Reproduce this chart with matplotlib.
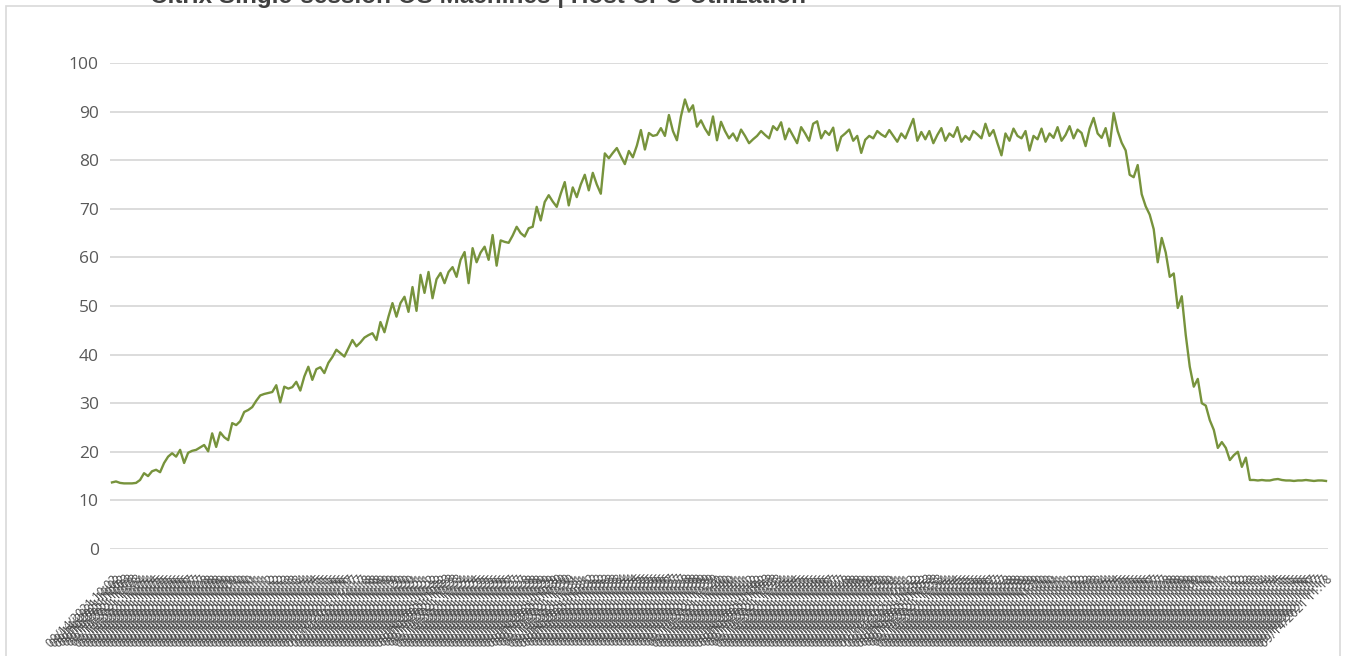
import matplotlib
matplotlib.use("Agg")
import matplotlib.pyplot as plt
from matplotlib.patches import Rectangle
from datetime import datetime, timedelta

plt.rcParams['font.family'] = ['Open Sans', 'DejaVu Sans']

title_text = "Citrix Single-session OS Machines | Host CPU Utilization"

ramp_start = [13.7, 13.9, 13.6, 13.5, 13.5, 13.5, 13.6, 14.2, 15.6, 15.0,
              16.0, 16.3, 15.8, 17.7, 19.0, 19.7, 19.0, 20.4, 17.7, 19.8,
              20.2, 20.4, 20.9, 21.4, 20.1, 23.8, 21.0, 24.0, 23.0, 22.4,
              25.9, 25.5, 26.3, 28.2, 28.6, 29.2, 30.5, 31.6, 31.9, 32.1,
              32.3, 33.7, 30.2, 33.4, 33.0, 33.3, 34.4, 32.6, 35.5, 37.5,
              34.8, 37.0, 37.4, 36.2, 38.3, 39.5, 41.0, 40.3, 39.6, 41.3,
              43.0, 41.7, 42.5, 43.5, 44.0, 44.4, 43.0, 46.7, 44.6, 47.8,
              50.6, 47.8, 50.6, 51.9, 48.8, 53.9, 49.0, 56.4, 52.7, 57.0,
              51.6, 55.5, 56.8, 54.7, 57.0, 58.0, 56.0, 59.5]
ramp_upper = [61.1, 54.7, 61.9, 59.0, 61.0, 62.2, 59.5, 64.6, 58.3, 63.5,
              63.2, 63.0, 64.5, 66.3, 65.0, 64.3, 66.0, 66.3, 70.4, 67.6,
              71.4, 72.8, 71.5, 70.4, 73.1, 75.5, 70.7, 74.4, 72.4, 75.0,
              77.0, 73.8, 77.4, 75.0, 73.1, 81.4, 80.4, 81.5, 82.5, 80.8,
              79.2, 81.9, 80.6, 83.0, 86.2, 82.2, 85.6, 85.0, 85.2, 86.6,
              85.0, 89.3, 86.0, 84.1, 89.0, 92.5, 90.0, 91.3, 86.9, 88.2,
              86.5, 85.2, 89.0, 84.1, 87.9, 86.0, 84.5]
plateau = [85.5, 84.0, 86.3, 85.0, 83.5, 84.3, 85.0, 86.0, 85.2, 84.5,
           87.0, 86.2, 87.8, 84.3, 86.5, 85.0, 83.5, 86.8, 85.5, 84.0,
           87.5, 88.0, 84.5, 86.0, 85.2, 86.7, 82.0, 84.8, 85.5, 86.3,
           84.0, 85.0, 81.5, 84.2, 85.0, 84.5, 86.0, 85.3, 84.8, 86.2,
           85.0, 83.8, 85.5, 84.5, 86.5, 88.5, 84.0, 85.8, 84.3, 86.0,
           83.5, 85.2, 86.6, 84.0, 85.5, 84.8, 86.8, 83.8, 85.0, 84.2,
           86.0, 85.3, 84.5, 87.5, 85.0, 86.2, 83.5, 81.0, 85.5, 84.0,
           86.5, 85.0, 84.5, 86.0, 82.0, 85.0, 84.3, 86.5, 83.8, 85.5,
           84.6, 86.8, 84.0, 85.2, 87.0, 84.5, 86.3, 85.6, 82.9, 86.5,
           88.7, 85.5, 84.6, 86.6, 82.9, 89.7]
ramp_down = [86.0, 83.6, 82.0, 77.0, 76.5, 79.0, 73.0, 70.5, 68.8, 65.8,
             59.0, 64.0, 61.0, 56.0, 56.7, 49.6, 52.0, 44.0, 37.5, 33.4,
             35.0, 30.0, 29.5, 26.5, 24.5, 20.8, 22.0, 20.8, 18.3, 19.3,
             20.0, 16.9, 18.8, 14.2, 14.2]
idle_end = [14.1, 14.2, 14.1, 14.1, 14.3, 14.4, 14.2, 14.1, 14.1, 14.0,
            14.1, 14.1, 14.2, 14.1, 14.0, 14.1, 14.1, 14.0]

cpu_values = ramp_start + ramp_upper + plateau + ramp_down + idle_end

start_time = datetime(2021, 9, 14, 10, 2, 15)
x_labels = [(start_time + timedelta(seconds=15 * i)).strftime("%m/%d/%Y %H:%M")
            for i in range(len(cpu_values))]

y_ticks = [0, 10, 20, 30, 40, 50, 60, 70, 80, 90, 100]

W, H = 1348, 656
fig = plt.figure(figsize=(W / 100, H / 100), dpi=100)

# outer chart frame
fig.patches.append(Rectangle((6 / W, -0.02), (1340 - 6) / W, 1 - 6 / H + 0.02,
                             transform=fig.transFigure, fill=False,
                             edgecolor="#d9d9d9", linewidth=1.2))

ax = fig.add_axes([110 / W, 1 - 549 / H, (1328 - 110) / W, (549 - 63) / H])
x = list(range(len(cpu_values)))
ax.plot(x, cpu_values, color="#77933c", linewidth=1.7, zorder=3)

ax.set_ylim(0, 100)
ax.set_xlim(-0.5, len(cpu_values) - 0.5)
ax.set_yticks(y_ticks)
ax.set_yticklabels([str(v) for v in y_ticks], fontsize=12.5, color="#595959")
ax.yaxis.grid(True, color="#d9d9d9", linewidth=1.3)
ax.set_axisbelow(True)
for s in ax.spines.values():
    s.set_visible(False)
ax.tick_params(axis="y", length=0, pad=8)

ax.set_xticks(x)
ax.set_xticklabels(x_labels, rotation=45, ha="right", va="top",
                   rotation_mode="anchor", fontsize=8.5, color="#4a4a4a")
ax.tick_params(axis="x", length=0, pad=17)

fig.text(150 / W, 1 - 2.5 / H, title_text, fontsize=17.5, fontweight="bold",
         family=["Liberation Sans", "DejaVu Sans"],
         color="#404040", ha="left", va="baseline")

fig.savefig("out.png", dpi=100)
